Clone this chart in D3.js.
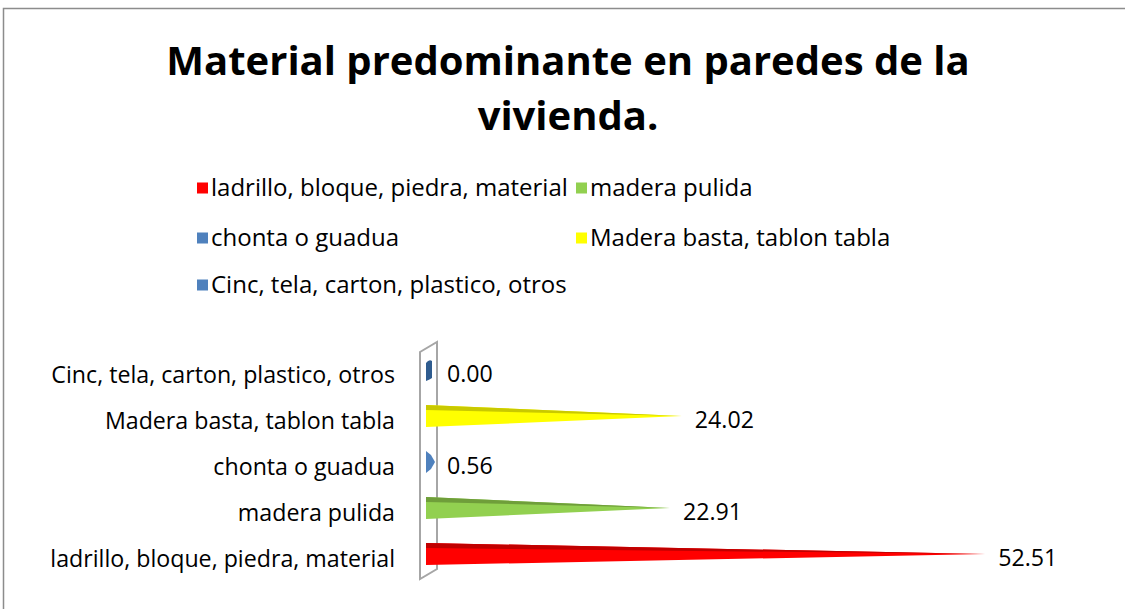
<!DOCTYPE html>
<html>
<head>
<meta charset="utf-8">
<script src="https://cdn.jsdelivr.net/npm/d3@7"></script>
<style>
  body { margin: 0; background: #fff; }
  svg text { font-family: "Open Sans", sans-serif; fill: #000; }
</style>
</head>
<body>
<div id="chart"></div>
<script>
// data
const categories = [
    "ladrillo, bloque, piedra, material",
    "madera pulida",
    "chonta o guadua",
    "Madera basta, tablon tabla",
    "Cinc, tela, carton, plastico, otros"
];
const values = [52.51, 22.91, 0.56, 24.02, 0.00];
const labels = ["52.51", "22.91", "0.56", "24.02", "0.00"];
const colors = ["#ff0000", "#92d050", "#4f81bd", "#ffff00", "#4f81bd"];
const topColors = ["#c00000", "#6f9e3a", "#2f5c8f", "#c9c900", "#2f5c8f"];

const W = 1125, H = 609;
const svg = d3.select("#chart").append("svg")
    .attr("width", W).attr("height", H);

// outer frame (clipped at right and bottom)
svg.append("path")
    .attr("d", `M3.5,${H} V8.5 H${W}`)
    .attr("fill", "none")
    .attr("stroke", "#8c8c8c")
    .attr("stroke-width", 1.5);

// title
const title = svg.append("text")
    .attr("text-anchor", "middle")
    .style("font-size", "40px")
    .style("font-weight", "bold");
title.append("tspan").attr("x", 568).attr("y", 75).text("Material predominante en paredes de la");
title.append("tspan").attr("x", 568).attr("y", 130).text("vivienda.");

// legend
const legendItems = [0, 1, 2, 3, 4];
const legendPos = [[197, 188], [576, 188], [197, 238], [576, 238], [197, 285]];
const legend = svg.append("g").attr("class", "legend");
legendItems.forEach((i, k) => {
    const [lx, ly] = legendPos[k];
    legend.append("rect")
        .attr("x", lx).attr("y", ly - 5.5)
        .attr("width", 11).attr("height", 11)
        .attr("fill", colors[i]);
    legend.append("text")
        .attr("x", lx + 14).attr("y", ly)
        .attr("dy", "0.35em")
        .style("font-size", "24px")
        .text(categories[i]);
});

// scales
const x = d3.scaleLinear().domain([0, 60]).range([426, 1065]);
const y = d3.scaleBand().domain(categories.slice().reverse()).range([347, 577]);

// axis wall (3D back plane)
const x0 = 420, depthX = 17, depthY = -10;
const wallTop = 352, wallBottom = 579;
svg.append("path")
    .attr("d", `M${x0},${wallTop} L${x0 + depthX},${wallTop + depthY} L${x0 + depthX},${wallBottom + depthY} L${x0},${wallBottom} Z`)
    .attr("fill", "#fff")
    .attr("stroke", "#a6a6a6")
    .attr("stroke-width", 2);

// category labels
svg.append("g").selectAll("text")
    .data(categories)
    .join("text")
    .attr("x", 395)
    .attr("y", d => y(d) + y.bandwidth() / 2 + 5)
    .attr("dy", "0.35em")
    .attr("text-anchor", "end")
    .style("font-size", "23.2px")
    .text(d => d);

// cones
const half = 11;
const bars = svg.append("g").attr("class", "bars");
categories.forEach((c, i) => {
    const yc = y(c) + y.bandwidth() / 2;
    const xs = x(0);
    const v = values[i];
    if (x(v) - xs < 10) {
        // tiny value: only the cone base is visible
        const w = v > 0 ? 9 : 6;
        bars.append("path")
            .attr("d", v > 0
                ? `M${xs},${yc - half} L${xs + w - 4},${yc - half + 4} L${xs + w},${yc} L${xs + w - 4},${yc + half - 4} L${xs},${yc + half} Z`
                : `M${xs},${yc - 7} Q${xs + w / 2},${yc - 11} ${xs + w},${yc - 9} L${xs + w},${yc + 8} Q${xs + w / 2},${yc + 10} ${xs},${yc + 11} Z`)
            .attr("fill", v > 0 ? colors[i] : topColors[i]);
    } else {
        const tip = x(v);
        bars.append("path")
            .attr("d", `M${xs},${yc - half} L${tip},${yc} L${xs},${yc + half} Z`)
            .attr("fill", colors[i]);
        bars.append("path")
            .attr("d", `M${xs},${yc - half} L${tip},${yc} L${xs},${yc - half + 5} Z`)
            .attr("fill", topColors[i]);
    }
    // value label
    const lx = Math.max(x(v), xs + 8) + 13;
    svg.append("text")
        .attr("x", lx)
        .attr("y", yc + 4)
        .attr("dy", "0.35em")
        .style("font-size", "23.2px")
        .text(labels[i]);
});
</script>
</body>
</html>
